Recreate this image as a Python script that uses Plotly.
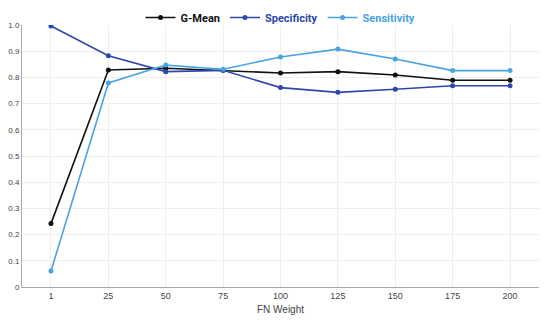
import plotly.graph_objects as go

weights = ["1", "25", "50", "75", "100", "125", "150", "175", "200"]
gmean = [0.242, 0.828, 0.835, 0.827, 0.817, 0.822, 0.809, 0.789, 0.789]
specificity = [0.996, 0.883, 0.822, 0.827, 0.761, 0.743, 0.755, 0.768, 0.768]
sensitivity = [0.061, 0.779, 0.847, 0.831, 0.878, 0.908, 0.870, 0.826, 0.826]
y_ticks = [0, 0.1, 0.2, 0.3, 0.4, 0.5, 0.6, 0.7, 0.8, 0.9, 1.0]
y_labels = ["0", "0.1", "0.2", "0.3", "0.4", "0.5", "0.6", "0.7", "0.8", "0.9", "1.0"]

series = [
    ("G-Mean", gmean, "#111111"),
    ("Specificity", specificity, "#2c48aa"),
    ("Sensitivity", sensitivity, "#4aa3e2"),
]

fig = go.Figure()
for name, vals, col in series:
    fig.add_trace(go.Scatter(
        x=weights, y=vals, mode="lines+markers",
        name=f"<span style='color:{col}'><b>{name}</b></span>",
        line=dict(color=col, width=1.6),
        marker=dict(color=col, size=5),
    ))

W, H = 534, 309
T, B = 17, 30
plot_h = H - T - B
fig.update_layout(
    width=W, height=H,
    margin=dict(l=14, r=3, t=T, b=B, autoexpand=False),
    paper_bgcolor="white", plot_bgcolor="white",
    font=dict(family="Liberation Sans, Arial, sans-serif", size=10, color="#333"),
    showlegend=True,
    legend=dict(orientation="h", x=0.5, xanchor="center",
                yref="paper", y=1.0 + (T + 5) / plot_h, yanchor="top",
                borderwidth=0, bgcolor="rgba(0,0,0,0)",
                font=dict(family="Roboto, sans-serif", size=11),
                itemwidth=30, tracegroupgap=0),
    xaxis=dict(type="category", showgrid=True, gridcolor="#eeeeee",
               showline=True, linecolor="#aaaaaa", linewidth=1,
               ticks="", tickfont=dict(size=9, color="#444"),
               title=dict(text="FN Weight", font=dict(size=10, color="#444"), standoff=6)),
    yaxis=dict(range=[0, 1.0], tickvals=y_ticks, ticktext=y_labels,
               showgrid=True, gridcolor="#eeeeee", zeroline=False,
               showline=True, linecolor="#aaaaaa", linewidth=1,
               ticks="", ticklabelstandoff=0, tickfont=dict(size=8, color="#444")),
)

fig.write_html("out.html")
